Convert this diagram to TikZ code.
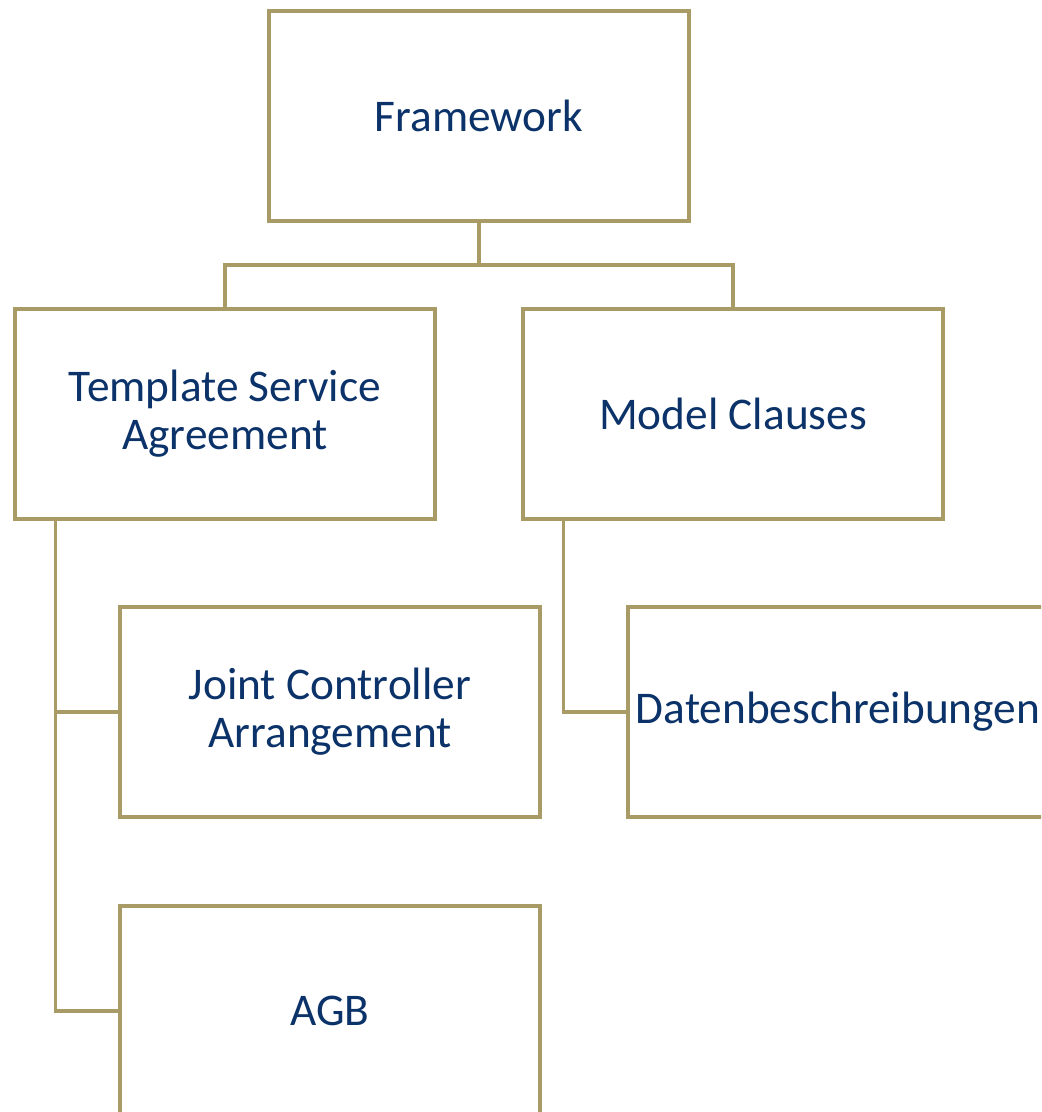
\documentclass[tikz,border=0pt]{standalone}
\usepackage{fontspec}
\setmainfont{Carlito}
\usetikzlibrary{calc}
\definecolor{gold}{HTML}{A99B65}
\definecolor{navy}{HTML}{0B3269}
\tikzset{
  box/.style={draw=gold, line width=2.6pt, rectangle, minimum width=315pt, minimum height=157.5pt,
    align=center, text=navy, font=\fontsize{34}{36}\selectfont, inner sep=0pt},
  conn/.style={draw=gold, line width=2.6pt}
}
\begin{document}
\begin{tikzpicture}[x=0.75pt,y=-0.75pt]
\useasboundingbox (0,0) rectangle (1041,1112);
\clip (0,0) rectangle (1041,1112);
\fill[white] (0,0) rectangle (1041,1112);
\node[box] (fw) at (479,116) {Framework};
\node[box] (tsa) at (225,414) {Template Service\\Agreement};
\node[box] (mc) at (733,414) {Model Clauses};
\node[box] (jca) at (330,712) {Joint Controller\\Arrangement};
\node[box] (dat) at (838,712) {Datenbeschreibungen};
\node[box] (agb) at (330,1011) {AGB};
\coordinate (j) at (479,265);
\draw[conn] (fw.south) -- (j);
\draw[conn] (tsa.north) |- (j) -| (mc.north);
\coordinate (tsaL) at ($(tsa.south west)+(42,0)$);
\coordinate (mcL) at ($(mc.south west)+(42,0)$);
\draw[conn] (tsaL) |- (jca.west);
\draw[conn] (tsaL) |- (agb.west);
\draw[conn] (mcL) |- (dat.west);
\end{tikzpicture}
\end{document}
